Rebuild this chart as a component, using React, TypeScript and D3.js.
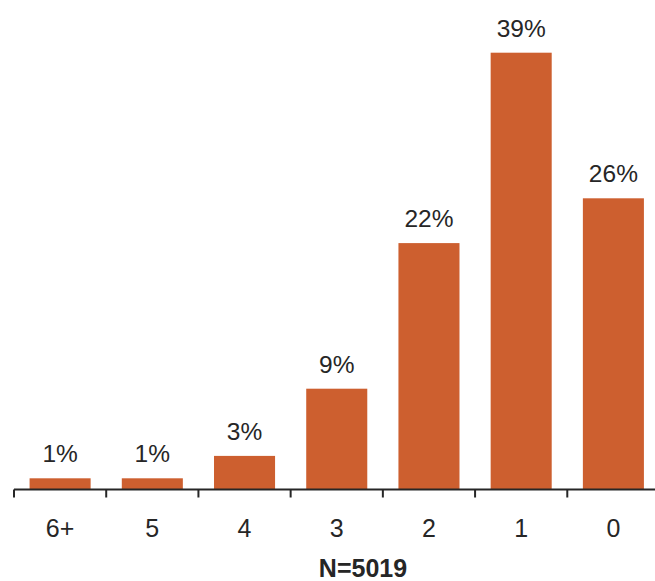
import React from "react";
import * as d3 from "d3";

const categories = ["6+", "5", "4", "3", "2", "1", "0"];
const values = [1, 1, 3, 9, 22, 39, 26];
const nLabel = "N=5019";

const W = 655;
const H = 581;
const BAR = "#CD5F2F";
const TEXT = "#262626";

export default function App() {
  const x0 = 14;
  const x1 = 659.5;
  const baseY = 489.5;
  const x = d3.scaleBand<string>().domain(categories).range([x0, x1]).paddingInner(0.338).paddingOuter(0.169);
  const y = d3.scaleLinear().domain([0, 39]).range([baseY, 52.7]);
  const step = x.step();
  const half = (step - x.bandwidth()) / 2;
  const ticks = categories.map((c) => (x(c) as number) - half).concat([(x(categories[categories.length - 1]) as number) + x.bandwidth() + half]);

  return (
    <svg width={W} height={H} style={{ position: "absolute", left: 0, top: 0, background: "#fff" }}
      fontFamily="'Liberation Sans', Arial, Helvetica, sans-serif">
      {categories.map((c, i) => (
        <g key={c}>
          <rect x={x(c)} y={y(values[i])} width={x.bandwidth()} height={baseY - y(values[i])} fill={BAR} />
          <text x={(x(c) as number) + x.bandwidth() / 2} y={y(values[i]) - 16} textAnchor="middle" fontSize={24.5} fill={TEXT}>
            {values[i]}%
          </text>
          <text x={(x(c) as number) + x.bandwidth() / 2} y={537} textAnchor="middle" fontSize={25} fill={TEXT}>
            {c}
          </text>
        </g>
      ))}
      <line x1={x0} x2={W} y1={baseY} y2={baseY} stroke={TEXT} strokeWidth={2} />
      {ticks.map((t, i) => (
        <line key={i} x1={t} x2={t} y1={baseY} y2={baseY + 8} stroke={TEXT} strokeWidth={2} />
      ))}
      <text x={363} y={577} textAnchor="middle" fontSize={25} fontWeight="bold" fill={TEXT}>
        {nLabel}
      </text>
    </svg>
  );
}
